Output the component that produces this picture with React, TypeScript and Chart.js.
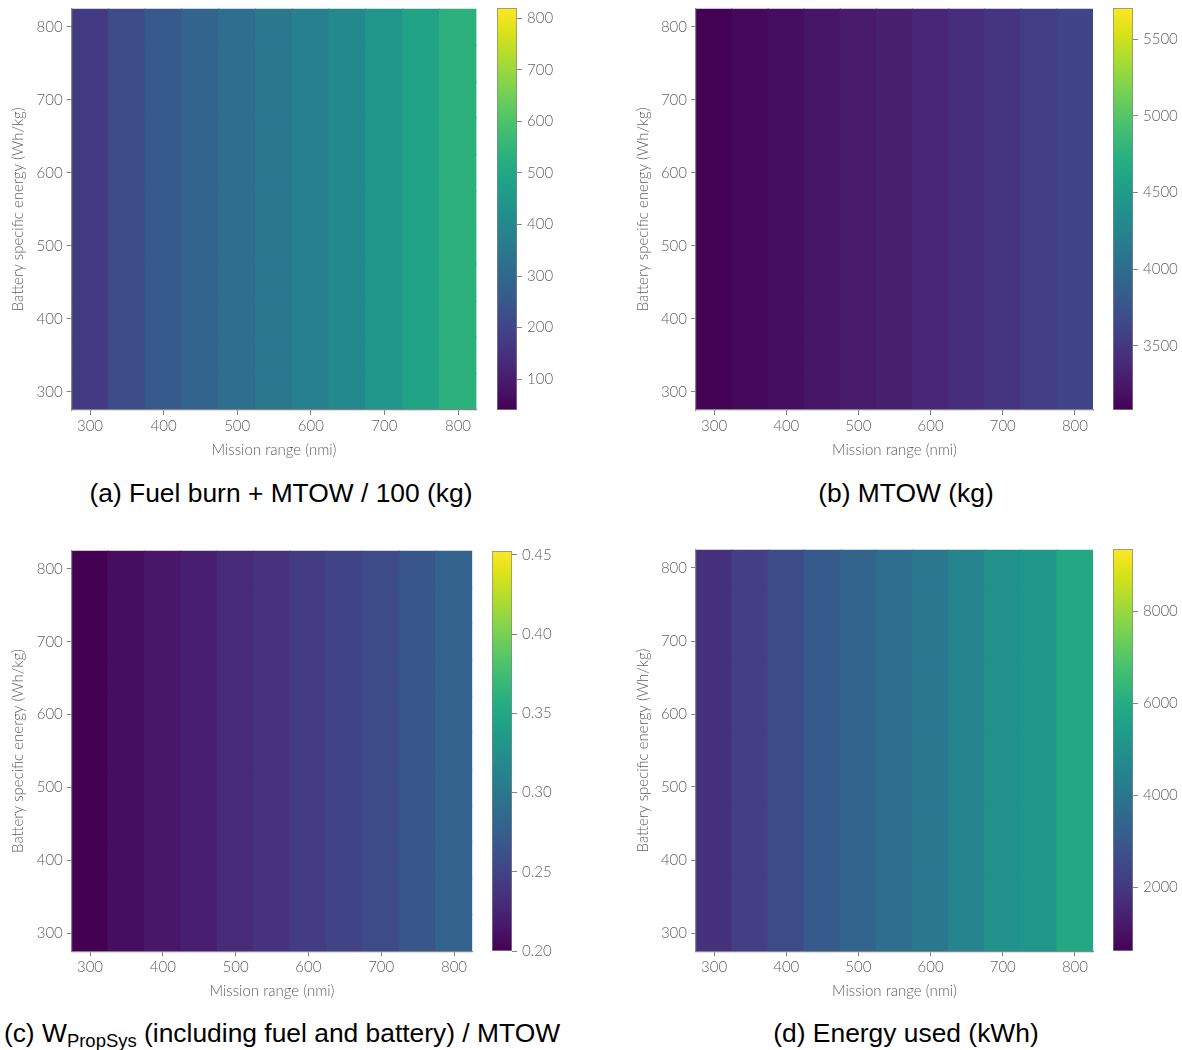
import React, { useEffect, useRef } from "react";
import { Chart, registerables } from "chart.js";

Chart.register(...registerables);

// ---------- data ----------
const missionRange = [300, 350, 400, 450, 500, 550, 600, 650, 700, 750, 800];
const batterySpecificEnergy = [300, 350, 400, 450, 500, 550, 600, 650, 700, 750, 800];
const axisTicks = [300, 400, 500, 600, 700, 800];

// values per mission-range column (identical for every battery specific energy row)
const fuelBurnPlusMtowOver100 = [171, 215, 257, 288, 318, 349, 376, 404, 450, 492, 535];
const mtowKg = [3090, 3135, 3175, 3222, 3268, 3309, 3361, 3423, 3483, 3544, 3617];
const propSysFraction = [0.2, 0.209, 0.215, 0.221, 0.23, 0.236, 0.243, 0.25, 0.258, 0.267, 0.278];
const energyUsedKwh = [1806, 2182, 2593, 3039, 3406, 3755, 4070, 4515, 4961, 5197, 5852];

const fuelRange = [40, 820];
const mtowRange = [3083, 5702];
const fractionRange = [0.2, 0.4525];
const energyRange = [609, 9348];

const fuelTicks = [100, 200, 300, 400, 500, 600, 700, 800];
const mtowTicks = [3500, 4000, 4500, 5000, 5500];
const fractionTicks = [0.2, 0.25, 0.3, 0.35, 0.4, 0.45];
const energyTicks = [2000, 4000, 6000, 8000];

// ---------- style ----------
const VIRIDIS = [
  "#440154", "#48186a", "#472d7b", "#424086", "#3b528b", "#33638d", "#2c728e",
  "#26828e", "#21918c", "#1fa088", "#28ae80", "#3fbc73", "#5ec962", "#84d44b",
  "#addc30", "#d8e219", "#fde725",
];
const TEXT = "#616161";
const LINE = "#858585";
const TICK_FONT = { family: "Lato, 'Open Sans', sans-serif", size: 15, weight: "300" };

function hexToRgb(h: string) {
  return [parseInt(h.slice(1, 3), 16), parseInt(h.slice(3, 5), 16), parseInt(h.slice(5, 7), 16)];
}
function viridis(t: number) {
  const tt = Math.max(0, Math.min(1, t)) * (VIRIDIS.length - 1);
  const i = Math.min(Math.floor(tt), VIRIDIS.length - 2);
  const f = tt - i;
  const a = hexToRgb(VIRIDIS[i]);
  const b = hexToRgb(VIRIDIS[i + 1]);
  const c = a.map((v, k) => Math.round(v + (b[k] - v) * f));
  return `rgb(${c[0]},${c[1]},${c[2]})`;
}

type Box = { l: number; r: number; t: number; b: number };
type PanelCfg = {
  key: string;
  columnValues: number[];
  range: number[];
  cbarTicks: number[];
  fmt: (v: number) => string;
  canvas: { left: number; top: number; w: number; h: number };
  plot: Box;
  cbar: Box;
  xTitleCy: number;
  yTitleCx: number;
  caption: React.ReactNode;
  captionCx: number;
  captionCy: number;
};

const panels: PanelCfg[] = [
  {
    key: "a",
    columnValues: fuelBurnPlusMtowOver100,
    range: fuelRange,
    cbarTicks: fuelTicks,
    fmt: (v) => String(v),
    canvas: { left: 0, top: 0, w: 500, h: 470 },
    plot: { l: 71.6, r: 476.4, t: 8.75, b: 410 },
    cbar: { l: 497, r: 517, t: 8, b: 410 },
    xTitleCy: 450,
    yTitleCx: 18,
    caption: <>(a) Fuel burn + MTOW / 100 (kg)</>,
    captionCx: 281,
    captionCy: 493,
  },
  {
    key: "b",
    columnValues: mtowKg,
    range: mtowRange,
    cbarTicks: mtowTicks,
    fmt: (v) => String(v),
    canvas: { left: 625, top: 0, w: 490, h: 470 },
    plot: { l: 696, r: 1093, t: 8.75, b: 410 },
    cbar: { l: 1113, r: 1133, t: 8, b: 410 },
    xTitleCy: 450,
    yTitleCx: 643,
    caption: <>(b) MTOW (kg)</>,
    captionCx: 906,
    captionCy: 493,
  },
  {
    key: "c",
    columnValues: propSysFraction,
    range: fractionRange,
    cbarTicks: fractionTicks,
    fmt: (v) => v.toFixed(2),
    canvas: { left: 0, top: 540, w: 500, h: 470 },
    plot: { l: 71.8, r: 472.2, t: 550.8, b: 951.2 },
    cbar: { l: 492, r: 512, t: 551, b: 951 },
    xTitleCy: 991,
    yTitleCx: 18,
    caption: (
      <>
        (c) W<sub style={{ fontSize: "70%", verticalAlign: "-0.25em" }}>PropSys</sub> (including fuel and battery) / MTOW
      </>
    ),
    captionCx: 282,
    captionCy: 1033,
  },
  {
    key: "d",
    columnValues: energyUsedKwh,
    range: energyRange,
    cbarTicks: energyTicks,
    fmt: (v) => String(v),
    canvas: { left: 625, top: 540, w: 490, h: 470 },
    plot: { l: 696, r: 1093, t: 549.75, b: 951.25 },
    cbar: { l: 1113, r: 1133, t: 549, b: 951 },
    xTitleCy: 991,
    yTitleCx: 643,
    caption: <>(d) Energy used (kWh)</>,
    captionCx: 906,
    captionCy: 1033,
  },
];

function noAxisPadding(s: any) {
  s.paddingTop = 0;
  s.paddingBottom = 0;
  s.paddingLeft = 0;
  s.paddingRight = 0;
}

function Heatmap({ cfg }: { cfg: PanelCfg }) {
  const ref = useRef<HTMLCanvasElement>(null);
  useEffect(() => {
    if (!ref.current) return;
    const { canvas, plot, range } = cfg;
    const [vmin, vmax] = range;
    const dx = missionRange[1] - missionRange[0];
    const dy = batterySpecificEnergy[1] - batterySpecificEnergy[0];
    const grid = batterySpecificEnergy.map(() => cfg.columnValues.slice());
    const datasets = batterySpecificEnergy.map((bse, r) => ({
      data: missionRange.map((mr) => ({ x: mr, y: [bse - dy / 2, bse + dy / 2] })),
      backgroundColor: grid[r].map((v) => viridis((v - vmin) / (vmax - vmin))),
      borderWidth: 0,
      inflateAmount: 0.7,
      grouped: false,
      barPercentage: 1,
      categoryPercentage: 1,
    }));
    const xMin = missionRange[0] - dx / 2;
    const xMax = missionRange[missionRange.length - 1] + dx / 2;
    const yMin = batterySpecificEnergy[0] - dy / 2;
    const yMax = batterySpecificEnergy[batterySpecificEnergy.length - 1] + dy / 2;
    const yAxisW = plot.l - canvas.left;
    const xAxisH = canvas.top + canvas.h - plot.b;
    const titleFont = TICK_FONT;
    const chart = new Chart(ref.current, {
      type: "bar",
      data: { datasets: datasets as any },
      options: {
        animation: false,
        responsive: false,
        maintainAspectRatio: false,
        layout: {
          padding: {
            left: 0,
            top: plot.t - canvas.top,
            right: canvas.left + canvas.w - plot.r,
            bottom: 0,
          },
        },
        plugins: { legend: { display: false }, tooltip: { enabled: false } },
        scales: {
          x: {
            type: "linear",
            min: xMin,
            max: xMax,
            offset: false,
            afterBuildTicks: (s: any) => {
              s.ticks = axisTicks.map((v) => ({ value: v }));
            },
            afterFit: (s: any) => {
              s.height = xAxisH;
              noAxisPadding(s);
            },
            grid: { drawOnChartArea: false, drawTicks: true, tickLength: 5, tickColor: LINE, offset: false },
            border: { display: true, color: LINE, width: 1.2, z: 1 },
            ticks: {
              color: TEXT,
              font: TICK_FONT,
              padding: 2,
              maxRotation: 0,
              autoSkip: false,
              callback: (v: any) => String(v),
            },
            title: {
              display: true,
              text: "Mission range (nmi)",
              color: TEXT,
              font: titleFont,
              padding: { top: 0, bottom: canvas.top + canvas.h - 9 - cfg.xTitleCy },
            },
          },
          y: {
            type: "linear",
            position: "left",
            min: yMin,
            max: yMax,
            afterBuildTicks: (s: any) => {
              s.ticks = axisTicks.map((v) => ({ value: v }));
            },
            afterFit: (s: any) => {
              s.width = yAxisW;
              noAxisPadding(s);
            },
            grid: { drawOnChartArea: false, drawTicks: true, tickLength: 5, tickColor: LINE },
            border: { display: true, color: LINE, width: 1.2, z: 1 },
            ticks: {
              color: TEXT,
              font: TICK_FONT,
              padding: 4,
              autoSkip: false,
              callback: (v: any) => String(v),
            },
            title: {
              display: true,
              text: "Battery specific energy (Wh/kg)",
              color: TEXT,
              font: titleFont,
              padding: { top: cfg.yTitleCx - canvas.left - 9, bottom: 0 },
            },
          },
        },
      } as any,
    });
    return () => chart.destroy();
  }, [cfg]);
  const { canvas } = cfg;
  return (
    <canvas
      ref={ref}
      width={canvas.w}
      height={canvas.h}
      style={{ position: "absolute", left: canvas.left, top: canvas.top, width: canvas.w, height: canvas.h }}
    />
  );
}

function Colorbar({ cfg }: { cfg: PanelCfg }) {
  const ref = useRef<HTMLCanvasElement>(null);
  const left = cfg.cbar.l - 7;
  const top = cfg.canvas.top;
  const w = 75;
  const h = cfg.cbar.b - top + 20;
  useEffect(() => {
    if (!ref.current) return;
    const [vmin, vmax] = cfg.range;
    const barW = cfg.cbar.r - cfg.cbar.l;
    const chart = new Chart(ref.current, {
      type: "bar",
      data: {
        labels: [""],
        datasets: [
          {
            data: [[vmin, vmax]],
            backgroundColor: (ctx: any) => {
              const area = ctx.chart.chartArea;
              if (!area) return VIRIDIS[0];
              const g = ctx.chart.ctx.createLinearGradient(0, area.bottom, 0, area.top);
              VIRIDIS.forEach((c, i) => g.addColorStop(i / (VIRIDIS.length - 1), c));
              return g;
            },
            borderColor: LINE,
            borderWidth: 1,
            borderSkipped: false,
            barPercentage: 1,
            categoryPercentage: 1,
          },
        ],
      },
      options: {
        animation: false,
        responsive: false,
        maintainAspectRatio: false,
        layout: {
          padding: { left: 7, top: cfg.cbar.t - top, right: 0, bottom: h - (cfg.cbar.b - top) },
        },
        plugins: { legend: { display: false }, tooltip: { enabled: false } },
        scales: {
          x: { display: false },
          y: {
            type: "linear",
            position: "right",
            min: vmin,
            max: vmax,
            afterBuildTicks: (s: any) => {
              s.ticks = cfg.cbarTicks.map((v) => ({ value: v }));
            },
            afterFit: (s: any) => {
              s.width = w - 7 - barW;
              noAxisPadding(s);
            },
            grid: { drawOnChartArea: false, drawTicks: true, tickLength: 5, tickColor: LINE },
            border: { display: false },
            ticks: {
              color: TEXT,
              font: TICK_FONT,
              padding: 5,
              autoSkip: false,
              callback: (v: any) => cfg.fmt(Number(v)),
            },
          },
        },
      } as any,
    });
    return () => chart.destroy();
  }, [cfg]);
  return (
    <canvas
      ref={ref}
      width={w}
      height={h}
      style={{ position: "absolute", left, top, width: w, height: h }}
    />
  );
}

export default function App() {
  return (
    <div style={{ position: "absolute", left: 0, top: 0, width: 1182, height: 1050, background: "#fff", overflow: "hidden" }}>
      {panels.map((p) => (
        <React.Fragment key={p.key}>
          <Heatmap cfg={p} />
          <Colorbar cfg={p} />
          <div
            style={{
              position: "absolute",
              left: p.captionCx - 340,
              width: 680,
              top: p.captionCy - 16,
              height: 32,
              lineHeight: "32px",
              textAlign: "center",
              fontFamily: "'Liberation Sans', Arial, sans-serif",
              fontSize: 26.4,
              color: "#000",
              whiteSpace: "nowrap",
            }}
          >
            {p.caption}
          </div>
        </React.Fragment>
      ))}
    </div>
  );
}
